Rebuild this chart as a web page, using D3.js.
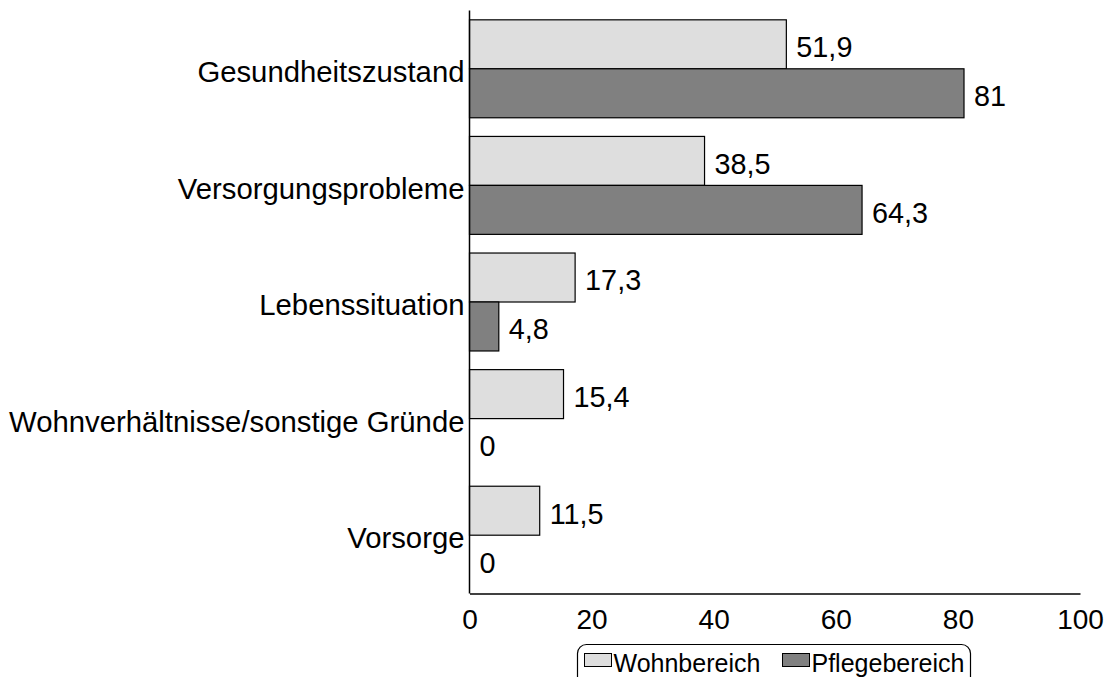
<!DOCTYPE html>
<html>
<head>
<meta charset="utf-8">
<script src="https://cdn.jsdelivr.net/npm/d3@7"></script>
<style>
  body { margin: 0; background: #fff; }
  text { font-family: "Liberation Sans", Arial, sans-serif; fill: #000; }
</style>
</head>
<body>
<script>
// data
var categories = ["Gesundheitszustand", "Versorgungsprobleme", "Lebenssituation", "Wohnverhältnisse/sonstige Gründe", "Vorsorge"];
var seriesNames = ["Wohnbereich", "Pflegebereich"];
var wohnbereich = [51.9, 38.5, 17.3, 15.4, 11.5];
var pflegebereich = [81, 64.3, 4.8, 0, 0];
var xTicks = [0, 20, 40, 60, 80, 100];
var colors = ["#dedede", "#808080"];

var width = 1109, height = 677;
var margin = {left: 469.5, right: 29, top: 10.5, bottom: 83.5};

var svg = d3.select("body").append("svg")
  .attr("width", width).attr("height", height);

var x = d3.scaleLinear().domain([0, 100]).range([margin.left, width - margin.right]);
var y = d3.scaleBand().domain(categories).range([margin.top, height - margin.bottom]).paddingInner(0.16).paddingOuter(0.08);
var ySub = d3.scaleBand().domain(seriesNames).range([0, y.bandwidth()]);

var fmt = function(v) { return String(v).replace(".", ","); };

var rows = categories.map(function(c, i) {
  return {cat: c, vals: [wohnbereich[i], pflegebereich[i]]};
});

var g = svg.selectAll(".cat")
  .data(rows)
  .enter().append("g")
    .attr("class", "cat")
    .attr("transform", function(d) { return "translate(0," + y(d.cat) + ")"; });

g.selectAll("rect")
  .data(function(d) { return d.vals.map(function(v, j) { return {v: v, s: seriesNames[j], j: j}; }); })
  .enter().append("rect")
    .attr("x", x(0))
    .attr("y", function(d) { return ySub(d.s); })
    .attr("width", function(d) { return x(d.v) - x(0); })
    .attr("height", ySub.bandwidth())
    .attr("fill", function(d) { return colors[d.j]; })
    .attr("stroke", function(d) { return d.v > 0 ? "#000" : "none"; })
    .attr("stroke-width", 1.2);

g.selectAll(".val")
  .data(function(d) { return d.vals.map(function(v, j) { return {v: v, s: seriesNames[j]}; }); })
  .enter().append("text")
    .attr("class", "val")
    .attr("x", function(d) { return x(d.v) + 10; })
    .attr("y", function(d) { return ySub(d.s) + ySub.bandwidth() / 2; })
    .attr("dy", "0.45em")
    .attr("font-size", 28.8)
    .text(function(d) { return fmt(d.v); });

// category labels
svg.selectAll(".cat-label")
  .data(categories)
  .enter().append("text")
    .attr("class", "cat-label")
    .attr("x", x(0) - 5)
    .attr("y", function(d) { return y(d) + y.bandwidth() / 2; })
    .attr("dy", "0.45em")
    .attr("text-anchor", "end")
    .attr("font-size", 29.3)
    .text(function(d) { return d; });

// axes
var xAxis = svg.append("g")
  .attr("transform", "translate(0," + (height - margin.bottom) + ")")
  .call(d3.axisBottom(x).tickValues(xTicks).tickSize(0).tickPadding(16));
xAxis.select(".domain").attr("stroke", "#000").attr("stroke-width", 1.5);
xAxis.selectAll("text").attr("font-size", 28).attr("font-family", "Liberation Sans, Arial, sans-serif");

svg.append("line")
  .attr("x1", x(0)).attr("x2", x(0))
  .attr("y1", margin.top).attr("y2", height - margin.bottom)
  .attr("stroke", "#000").attr("stroke-width", 1.5);

// legend
var leg = svg.append("g").attr("transform", "translate(577.5,644.5)");
leg.append("rect")
  .attr("width", 393).attr("height", 42)
  .attr("rx", 9).attr("ry", 9)
  .attr("fill", "#fff").attr("stroke", "#000").attr("stroke-width", 1.2);

var legX = [7, 205];
seriesNames.forEach(function(s, i) {
  leg.append("rect")
    .attr("x", legX[i]).attr("y", 9)
    .attr("width", 27).attr("height", 13)
    .attr("fill", colors[i]).attr("stroke", "#000").attr("stroke-width", 1);
  leg.append("text")
    .attr("x", legX[i] + 29).attr("y", 27)
    .attr("font-size", 25)
    .text(s);
});
</script>
</body>
</html>
